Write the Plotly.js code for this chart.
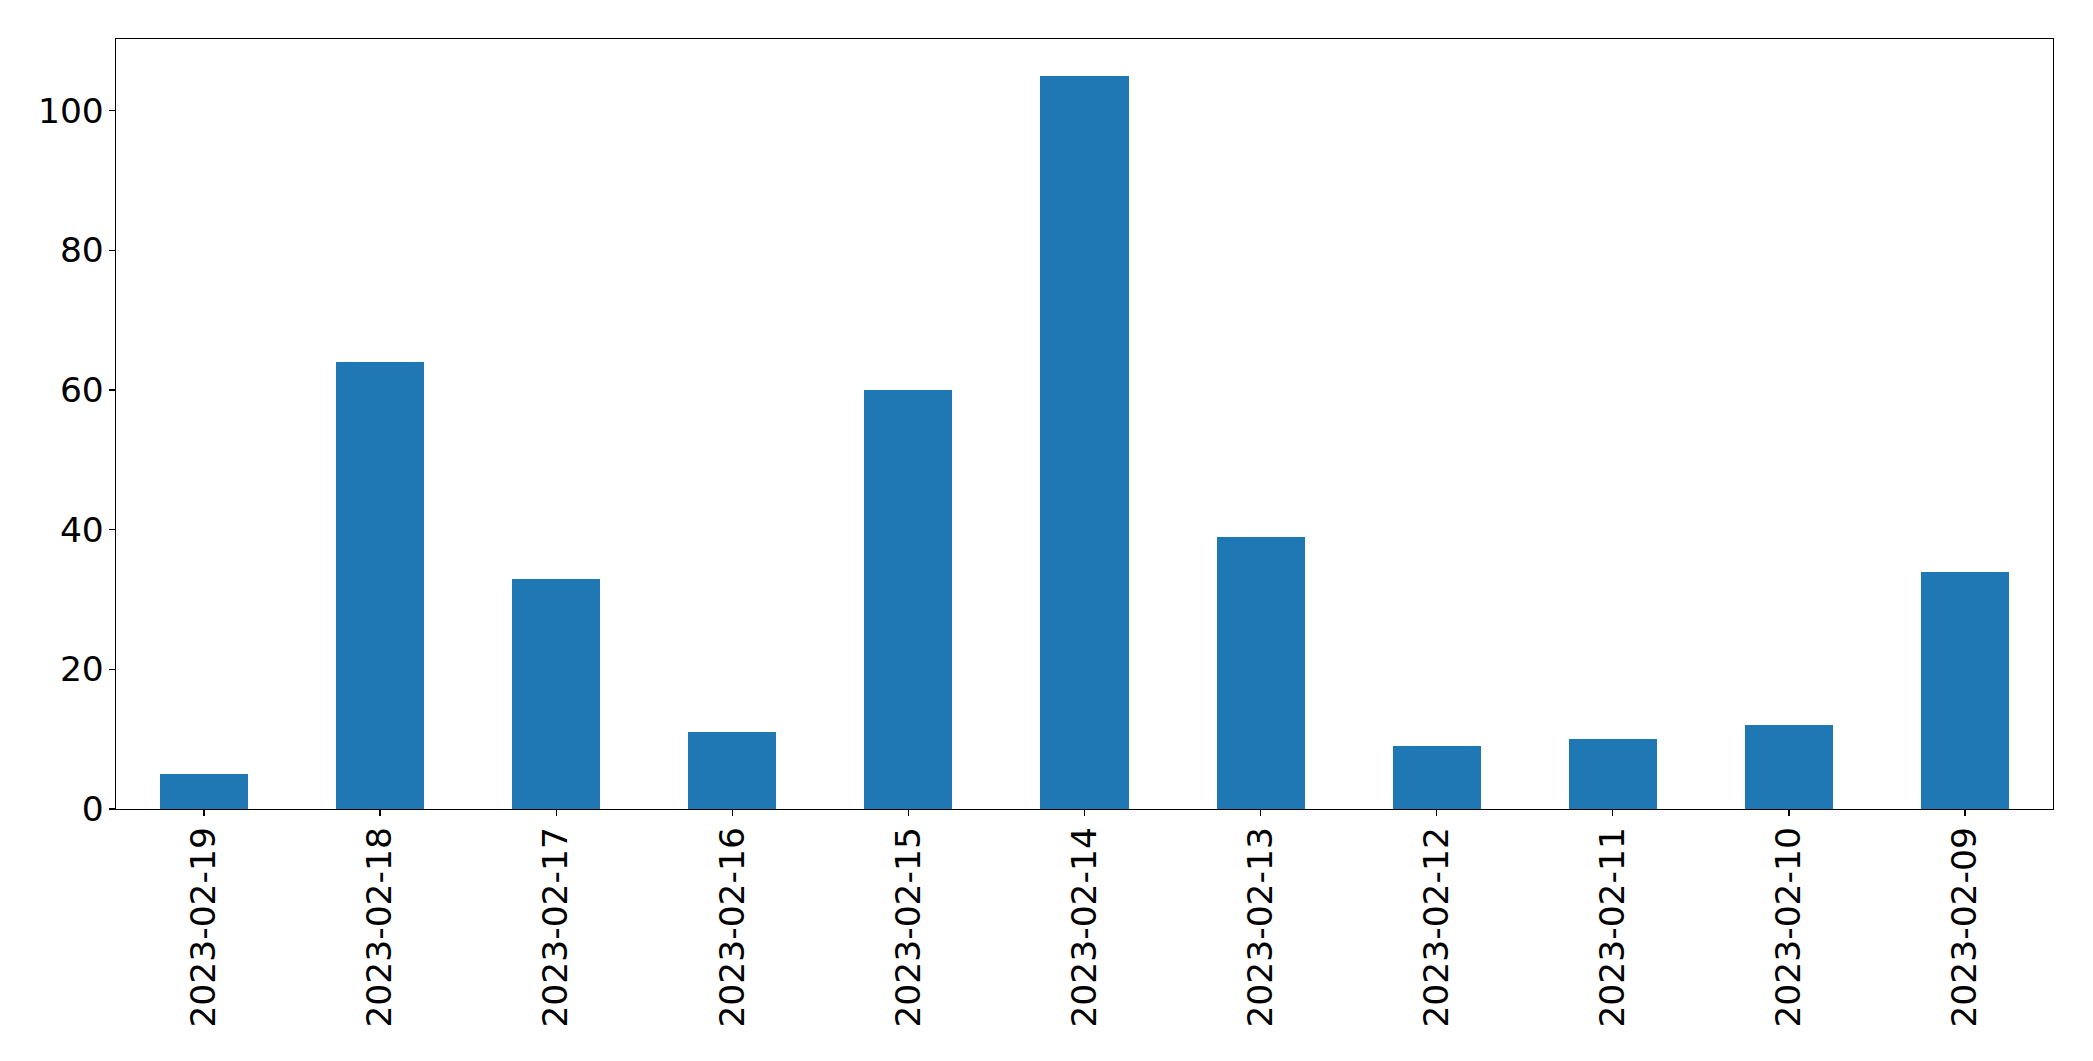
<!DOCTYPE html>
<html>
<head>
<meta charset="utf-8">
<script src="https://cdn.plot.ly/plotly-3.0.1.min.js"></script>
<style>html,body{margin:0;padding:0;background:#fff;}#chart{width:2093px;height:1061px;}</style>
</head>
<body>
<div id="chart"></div>
<script>
const categories = ["2023-02-19","2023-02-18","2023-02-17","2023-02-16","2023-02-15","2023-02-14","2023-02-13","2023-02-12","2023-02-11","2023-02-10","2023-02-09"];
const counts = [5, 64, 33, 11, 60, 105, 39, 9, 10, 12, 34];
const yTicks = [0, 20, 40, 60, 80, 100];

const trace = {
  type: 'bar',
  x: categories,
  y: counts,
  width: 0.5,
  marker: {color: '#1f77b4', line: {width: 0}},
  hoverinfo: 'x+y'
};

const layout = {
  width: 2093,
  height: 1061,
  margin: {l: 116, r: 40, t: 39, b: 252},
  paper_bgcolor: '#ffffff',
  plot_bgcolor: '#ffffff',
  font: {family: 'DejaVu Sans', size: 34.5, color: '#000000'},
  showlegend: false,
  bargap: 0,
  xaxis: {
    type: 'category',
    range: [-0.5, categories.length - 0.5],
    tickangle: -90,
    ticks: 'outside',
    ticklen: 6,
    tickwidth: 1.3,
    tickcolor: '#000',
    showline: true,
    linecolor: '#000',
    linewidth: 1.3,
    mirror: true,
    showgrid: false,
    zeroline: false,
    ticklabelstandoff: -3,
    tickfont: {family: 'DejaVu Sans', size: 34.5, color: '#000'}
  },
  yaxis: {
    range: [0, 110.25],
    tickvals: yTicks,
    ticktext: yTicks.map(String),
    ticks: 'outside',
    ticklen: 6,
    tickwidth: 1.3,
    tickcolor: '#000',
    showline: true,
    linecolor: '#000',
    linewidth: 1.3,
    mirror: true,
    showgrid: false,
    zeroline: false,
    ticklabelstandoff: -2,
    tickfont: {family: 'DejaVu Sans', size: 34.5, color: '#000'}
  }
};

Plotly.newPlot('chart', [trace], layout, {displayModeBar: false, staticPlot: true});
</script>
</body>
</html>
